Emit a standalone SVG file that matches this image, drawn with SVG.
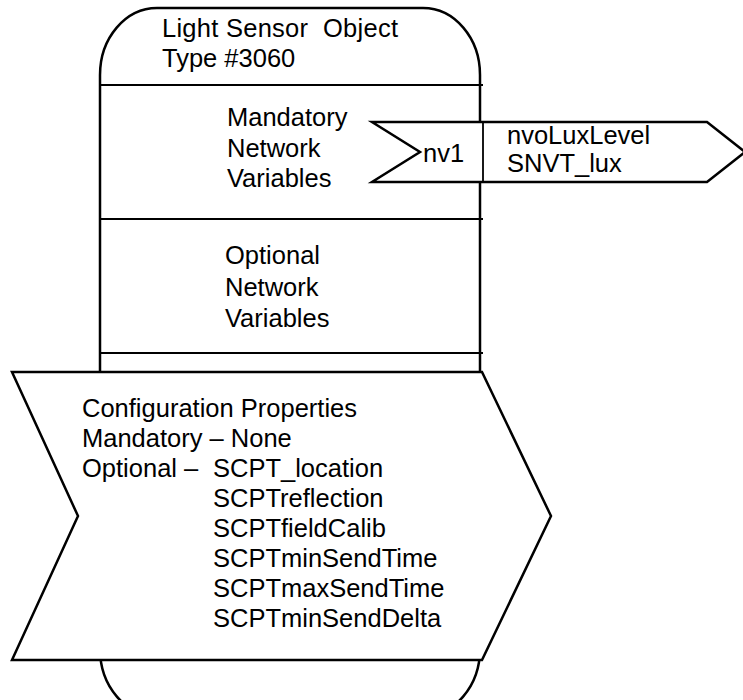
<svg xmlns="http://www.w3.org/2000/svg" width="743" height="700" viewBox="0 0 743 700">
<style>
.t{font-family:"Liberation Sans",Arial,sans-serif;font-size:25.5px;fill:#000;white-space:pre}
.outline{fill:#fff;stroke:#000;stroke-width:2.5;stroke-linejoin:miter}
.sep{stroke:#000;stroke-width:1.8;fill:none}
</style>
<rect width="743" height="700" fill="#fff"/>
<g id="object">
<path class="outline" d="M157,8 L423,8 A57,67 0 0 1 480,75 L480,649 A57,67 0 0 1 423,716 L157,716 A57,67 0 0 1 100,649 L100,75 A57,67 0 0 1 157,8 Z"/>
<line class="sep" x1="100" y1="85" x2="483" y2="85"/>
<line class="sep" x1="100" y1="219" x2="483" y2="219"/>
<line class="sep" x1="100" y1="353" x2="483" y2="353"/>
<text class="t" x="162" y="37" xml:space="preserve" textLength="236">Light Sensor  Object</text>
<text class="t" x="162" y="67">Type #3060</text>
</g>
<g id="mandatory">
<text class="t" x="227" y="126">Mandatory</text>
<text class="t" x="227" y="157">Network</text>
<text class="t" x="227" y="187">Variables</text>
</g>
<g id="optional">
<text class="t" x="225" y="264">Optional</text>
<text class="t" x="225" y="296">Network</text>
<text class="t" x="225" y="327">Variables</text>
</g>
<g id="nv1">
<path class="outline" d="M372,122 L707,122 L745,152 L707,182 L372,182 L420,152 Z"/>
<line class="sep" x1="483" y1="122" x2="483" y2="182"/>
<text class="t" x="423" y="162">nv1</text>
<text class="t" x="507" y="144">nvoLuxLevel</text>
<text class="t" x="507" y="172">SNVT_lux</text>
</g>
<g id="config">
<path class="outline" d="M12,372 L482,372 L551,516 L482,660 L12,660 L78,516 Z"/>
<text class="t" x="82" y="417">Configuration Properties</text>
<text class="t" x="82" y="447">Mandatory – None</text>
<text class="t" x="82" y="477">Optional –</text>
<text class="t" x="213" y="477">SCPT_location</text>
<text class="t" x="213" y="507">SCPTreflection</text>
<text class="t" x="213" y="537">SCPTfieldCalib</text>
<text class="t" x="213" y="567">SCPTminSendTime</text>
<text class="t" x="213" y="597">SCPTmaxSendTime</text>
<text class="t" x="213" y="627">SCPTminSendDelta</text>
</g>
<g id="connectors"></g>
</svg>
